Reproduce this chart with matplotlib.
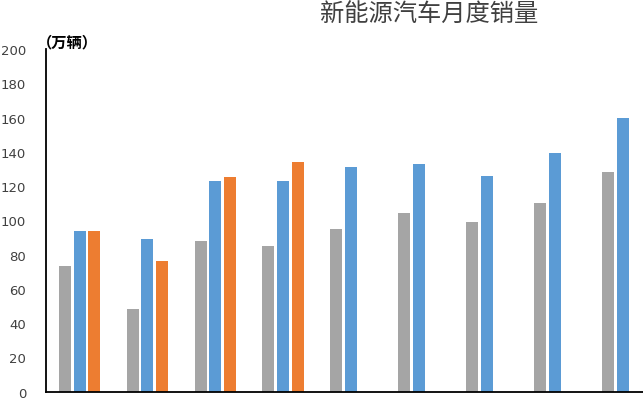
import matplotlib
matplotlib.use("Agg")
import matplotlib.pyplot as plt
import numpy as np

plt.rcParams['font.family'] = ['Noto Sans CJK SC', 'DejaVu Sans']

# Data (万辆)
groups = [1, 2, 3, 4, 5, 6, 7, 8, 9]
series_grey = [73, 48, 88, 85, 95, 104, 99, 110, 128]
series_blue = [94, 89, 123, 123, 131, 133, 126, 139, 160]
series_orange = [94, 76, 125, 134]
yticks = [0, 20, 40, 60, 80, 100, 120, 140, 160, 180, 200]

title = "新能源汽车月度销量"
unit_label = "（万辆）"

c_grey = "#A5A5A5"
c_blue = "#5B9BD5"
c_orange = "#ED7D31"

fig = plt.figure(figsize=(6.43, 4.02), dpi=100)
ax = fig.add_axes([0.0711, 0.0236, 0.929, 0.852])

x = np.arange(len(groups))
off = 0.218
w = 0.177
ax.bar(x - off, series_grey, width=w, color=c_grey)
ax.bar(x, series_blue, width=w, color=c_blue)
ax.bar(x[:len(series_orange)] + off, series_orange, width=w, color=c_orange)

ax.set_xlim(-0.498, 8.30)
ax.set_ylim(0, 200)
ax.set_yticks(yticks)
ax.set_yticklabels([str(v) for v in yticks], family='DejaVu Sans', fontsize=9.5, color='#404040')
ax.set_xticks([])
ax.tick_params(axis='y', length=0, pad=14)

for s in ['top', 'right']:
    ax.spines[s].set_visible(False)
ax.spines['left'].set_color('black')
ax.spines['left'].set_linewidth(1.3)
ax.spines['bottom'].set_color('black')
ax.spines['bottom'].set_linewidth(1.3)

fig.text(429 / 643, 1 - 15 / 402, title, ha='center', va='center', fontsize=17.5, color='#404040')
fig.text(67 / 643, 1 - 42 / 402, unit_label, ha='center', va='center', fontsize=11,
         color='black', fontweight='bold')

fig.savefig("out.png", dpi=100)
